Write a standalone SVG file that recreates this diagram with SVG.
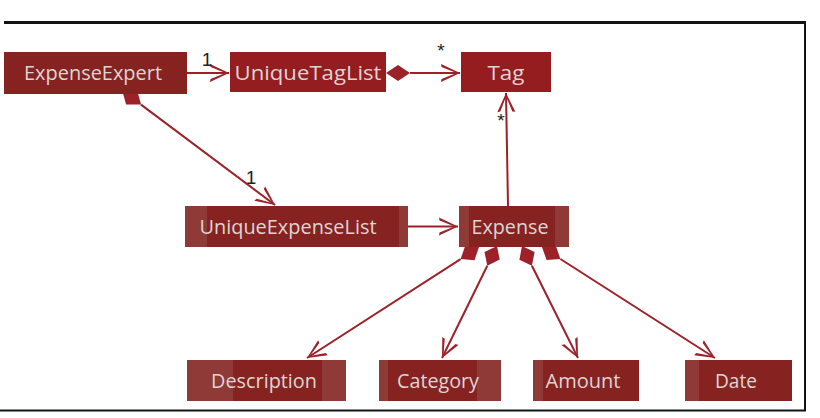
<svg xmlns="http://www.w3.org/2000/svg" width="820" height="418" viewBox="0 0 820 418">
<defs>
<style>
.frame{stroke:#111316;fill:none}
.edge{stroke:#9C2128;stroke-width:2;fill:none}
.dia{fill:#9C2128;stroke:none}
.lbl{font-family:"Liberation Sans",Arial,sans-serif;font-size:19px;fill:#222}
.dark{fill:#862320}
.red{fill:#951C1F}
.light{fill:#8F3A36}
.t{font-family:"Open Sans","Noto Sans",sans-serif;font-size:20px;fill:#DDD5D5;text-anchor:middle}
</style>
<marker id="arr" viewBox="-22 -12 24 24" refX="0" refY="0" markerWidth="24" markerHeight="24" markerUnits="userSpaceOnUse" orient="auto">
<path d="M0,0 L-19,-9 L-18.5,-6 L-3.5,0 L-18.5,6 L-19,9 Z" fill="#9C2128"/>
</marker>
</defs>
<rect width="820" height="418" fill="#fff"/>
<g id="frame">
<line class="frame" x1="4" y1="22.5" x2="806" y2="22.5" stroke-width="3"/>
<line class="frame" x1="805" y1="22" x2="805" y2="411" stroke-width="2"/>
<line class="frame" x1="0" y1="410.5" x2="806" y2="410.5" stroke-width="2"/>
</g>
<g id="connectors">
<line class="edge" x1="187" y1="73" x2="229" y2="73" marker-end="url(#arr)"/>
<polygon class="dia" points="386,73 398,65 410,73 398,81"/>
<line class="edge" x1="410" y1="73" x2="460" y2="73" marker-end="url(#arr)"/>
<line class="edge" x1="508" y1="206" x2="506" y2="93" marker-end="url(#arr)"/>
<polygon class="dia" points="122,90 126.1,104.4 141.1,104.6 137,90.1"/>
<line class="edge" x1="141" y1="104.6" x2="275" y2="205" marker-end="url(#arr)"/>
<line class="edge" x1="408" y1="226.5" x2="458" y2="226.5" marker-end="url(#arr)"/>
<polygon class="dia" points="479,247 474.5,260.2 460.6,259.1 465.1,246"/>
<line class="edge" x1="460.6" y1="259.1" x2="307" y2="358" marker-end="url(#arr)"/>
<polygon class="dia" points="497,246 499.7,259.6 487.3,265.7 484.5,252.1"/>
<line class="edge" x1="487.3" y1="265.7" x2="442" y2="358" marker-end="url(#arr)"/>
<polygon class="dia" points="522,246 519.4,259.7 531.9,265.7 534.6,252"/>
<line class="edge" x1="531.9" y1="265.7" x2="578" y2="358" marker-end="url(#arr)"/>
<polygon class="dia" points="542,247 546.6,260.1 560.4,259 555.9,245.9"/>
<line class="edge" x1="560.4" y1="259" x2="715" y2="358" marker-end="url(#arr)"/>
<text class="lbl" x="207" y="66" text-anchor="middle">1</text>
<text class="lbl" x="441" y="57" text-anchor="middle">*</text>
<text class="lbl" x="501" y="127" text-anchor="middle">*</text>
<text class="lbl" x="251" y="184" text-anchor="middle">1</text>
</g>
<g id="ExpenseExpert">
<rect class="dark" x="4" y="52" width="183" height="42"/>
<text class="t" x="93" y="80" textLength="138" lengthAdjust="spacingAndGlyphs">ExpenseExpert</text>
</g>
<g id="UniqueTagList">
<rect class="red" x="230" y="52" width="156" height="40"/>
<text class="t" x="308" y="80" textLength="147" lengthAdjust="spacingAndGlyphs">UniqueTagList</text>
</g>
<g id="Tag">
<rect class="red" x="461" y="52" width="90" height="40"/>
<text class="t" x="506" y="80" textLength="37" lengthAdjust="spacingAndGlyphs">Tag</text>
</g>
<g id="UniqueExpenseList">
<rect class="light" x="185" y="206" width="223" height="41"/>
<rect class="dark" x="207" y="206" width="192" height="41"/>
<text class="t" x="288" y="234" textLength="177" lengthAdjust="spacingAndGlyphs">UniqueExpenseList</text>
</g>
<g id="Expense">
<rect class="light" x="459" y="206" width="110" height="41"/>
<rect class="dark" x="469" y="206" width="86" height="41"/>
<text class="t" x="510" y="234" textLength="77" lengthAdjust="spacingAndGlyphs">Expense</text>
</g>
<g id="Description">
<rect class="light" x="187" y="360" width="159" height="41"/>
<rect class="dark" x="233" y="360" width="89" height="41"/>
<text class="t" x="264" y="388" textLength="106" lengthAdjust="spacingAndGlyphs">Description</text>
</g>
<g id="Category">
<rect class="light" x="379" y="360" width="122" height="41"/>
<rect class="dark" x="388" y="360" width="89" height="41"/>
<text class="t" x="438" y="388" textLength="82" lengthAdjust="spacingAndGlyphs">Category</text>
</g>
<g id="Amount">
<rect class="light" x="533" y="360" width="106" height="41"/>
<rect class="dark" x="543" y="360" width="96" height="41"/>
<text class="t" x="583" y="388" textLength="75" lengthAdjust="spacingAndGlyphs">Amount</text>
</g>
<g id="Date">
<rect class="light" x="685" y="360" width="107" height="41"/>
<rect class="dark" x="699" y="360" width="93" height="41"/>
<text class="t" x="736" y="388" textLength="42" lengthAdjust="spacingAndGlyphs">Date</text>
</g>
</svg>
